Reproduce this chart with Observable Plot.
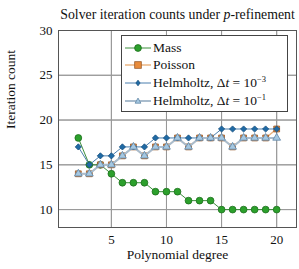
<!DOCTYPE html>
<html>
<head>
<meta charset="utf-8">
<script src="https://cdn.jsdelivr.net/npm/d3@7"></script>
<script src="https://cdn.jsdelivr.net/npm/@observablehq/plot@0.6"></script>
<style>
  html, body { margin: 0; padding: 0; background: #fff; }
  #wrap, #wrap * { font-family: "Liberation Serif", "DejaVu Serif", serif !important; }
  #wrap { position: relative; width: 299px; height: 269px; }
  #legend { position: absolute; left: 121px; top: 35px; width: 167px; height: 77px; border: 1px solid #444; background: #fff; box-sizing: border-box; font-size: 13.5px; color: #111; }
  .row { position: absolute; left: 3px; height: 18px; display: flex; align-items: center; white-space: nowrap; }
  .row svg { margin-right: 2px; }
  sup { font-size: 8.5px; vertical-align: 5px; line-height: 0; }
</style>
</head>
<body>
<div id="wrap"></div>
<script>
const degrees = [2,3,4,5,6,7,8,9,10,11,12,13,14,15,16,17,18,19,20];
const mass =        [18,15,15,14,13,13,13,12,12,12,11,11,11,10,10,10,10,10,10];
const poisson =     [14,14,15,15,16,17,16,17,17,18,17,18,18,18,17,18,18,18,19];
const helm3 =       [17,15,16,16,17,17,17,18,18,18,18,18,18,19,19,19,19,19,19];
const helm1 =       [14,14,15,15,16,17,16,17,17,18,17,18,18,18,17,18,18,18,18];
const xTicks = [5,10,15,20];
const yTicks = [10,15,20,25,30];
const titleText = "Solver iteration counts under p-refinement";
const xLabel = "Polynomial degree";
const yLabel = "Iteration count";

const series = [
  {name: "Mass", values: mass, line: "#3d8f3d", fill: "#2ca02c", stroke: "#1d6e1d", symbol: "circle", r: 3.4, lw: 1},
  {name: "Poisson", values: poisson, line: "#eab07a", fill: "#e98b3a", stroke: "#9a5a2a", symbol: "square", r: 3.3, lw: 1.4},
  {name: "Helmholtz 1e-3", values: helm3, line: "#4b7fae", fill: "#1f6aa5", stroke: "#174f7d", symbol: "diamond2", r: 2.8, lw: 1},
  {name: "Helmholtz 1e-1", values: helm1, line: "#a9bccd", fill: "#a5c8e2", stroke: "#6286a6", symbol: "triangle", r: 2.9, lw: 2}
];

const marks = [];
for (const s of series) {
  const data = degrees.map((d, i) => ({x: d, y: s.values[i]}));
  marks.push(Plot.line(data, {x: "x", y: "y", stroke: s.line, strokeWidth: s.lw}));
  marks.push(Plot.dot(data, {x: "x", y: "y", symbol: () => s.symbol, r: s.r, fill: s.fill, stroke: s.stroke, strokeWidth: 0.8}));
}

const plot = Plot.plot({
  width: 299,
  height: 269,
  marginLeft: 58,
  marginRight: 3,
  marginTop: 30,
  marginBottom: 42,
  style: {fontFamily: "'Liberation Serif', 'DejaVu Serif', serif", fontSize: "12px", background: "#fff", color: "#111"},
  x: {domain: [0.2, 21.8], ticks: xTicks, label: null},
  y: {domain: [8, 30], ticks: yTicks, label: null},
  symbol: {type: "identity"},
  marks: [
    Plot.tickX(xTicks, {x: d => d, y1: 8, y2: 8.35, stroke: "#999"}),
    Plot.tickX(xTicks, {x: d => d, y1: 29.65, y2: 30, stroke: "#999"}),
    Plot.tickY(yTicks, {y: d => d, x1: 0.2, x2: 0.63, stroke: "#999"}),
    Plot.tickY(yTicks, {y: d => d, x1: 21.37, x2: 21.8, stroke: "#999"}),
    ...marks,
    Plot.frame({stroke: "#555", strokeWidth: 1}),
    Plot.axisX({ticks: xTicks, tickSize: 0, tickPadding: 7, label: null, fontSize: 13}),
    Plot.axisY({ticks: yTicks, tickSize: 0, tickPadding: 6, label: null, fontSize: 13}),
    Plot.text([xLabel], {frameAnchor: "bottom", dy: 31, text: d => d, fontSize: 13.5}),
    Plot.text([yLabel], {frameAnchor: "left", dx: -48, rotate: -90, text: d => d, fontSize: 13.5}),
    Plot.text([titleText], {frameAnchor: "top", dy: -21, text: d => d, fontSize: 13.8})
  ]
});
document.getElementById("wrap").appendChild(plot);

// style the title's "p" as italic
const tnodes = plot.querySelectorAll("text");
for (const t of tnodes) {
  if (t.textContent === titleText) {
    const ts = t.querySelector("tspan") || t;
    ts.textContent = "";
    const parts = [["Solver iteration counts under ", false], ["p", true], ["-refinement", false]];
    for (const [txt, it] of parts) {
      const sp = document.createElementNS("http://www.w3.org/2000/svg", "tspan");
      sp.textContent = txt;
      if (it) sp.setAttribute("font-style", "italic");
      ts.appendChild(sp);
    }
  }
}

// legend (HTML overlay)
const labels = [
  "Mass",
  "Poisson",
  "Helmholtz, Δ<i>t</i> = 10<sup>−3</sup>",
  "Helmholtz, Δ<i>t</i> = 10<sup>−1</sup>"
];
const legend = document.createElement("div");
legend.id = "legend";
const symPath = {
  circle: (s) => `<circle cx="13" cy="6" r="${s.r}" fill="${s.fill}" stroke="${s.stroke}" stroke-width="0.8"/>`,
  square: (s) => `<rect x="${13 - s.r}" y="${6 - s.r}" width="${2*s.r}" height="${2*s.r}" fill="${s.fill}" stroke="${s.stroke}" stroke-width="0.8"/>`,
  diamond2: (s) => `<path d="M13,${6 - s.r}L${13 + s.r*0.75},6L13,${6 + s.r}L${13 - s.r*0.75},6Z" fill="${s.fill}" stroke="${s.stroke}" stroke-width="0.8"/>`,
  triangle: (s) => `<path d="M13,${6 - s.r}L${13 + s.r},${6 + s.r*0.75}L${13 - s.r},${6 + s.r*0.75}Z" fill="${s.fill}" stroke="${s.stroke}" stroke-width="0.8"/>`
};
series.forEach((s, i) => {
  const row = document.createElement("div");
  row.className = "row";
  row.style.top = (2.5 + i * 17.7) + "px";
  row.innerHTML = `<svg width="26" height="12"><line x1="0" y1="6" x2="26" y2="6" stroke="${s.line}" stroke-width="${s.lw}"/>${symPath[s.symbol](s)}</svg><span>${labels[i]}</span>`;
  legend.appendChild(row);
});
document.getElementById("wrap").appendChild(legend);
</script>
</body>
</html>
